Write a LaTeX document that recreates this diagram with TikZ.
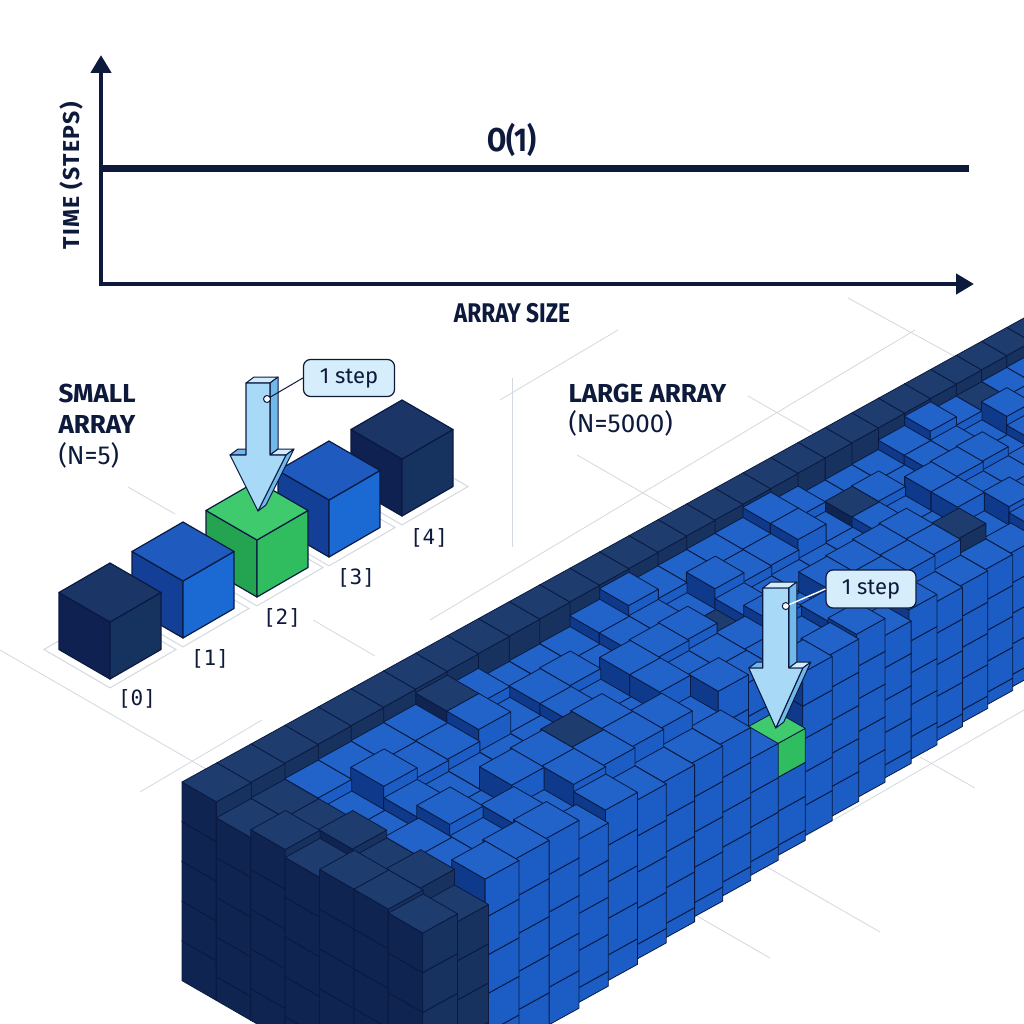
\documentclass[tikz,border=0pt]{standalone}
\usepackage{fontspec}
\setmainfont{Fira Sans}
\newfontfamily\condf[FakeStretch=0.84]{Fira Sans}
\newfontfamily\spacef[LetterSpace=6]{Fira Sans}
\newfontfamily\monof{DejaVu Sans Mono}
\usetikzlibrary{arrows.meta,calc}

\definecolor{ink}{HTML}{0E1A3C}
\definecolor{edgec}{HTML}{0A1A42}
\definecolor{gridc}{HTML}{D3D9E1}
\definecolor{dkT}{HTML}{1E3C6E}
\definecolor{dkL}{HTML}{0F2450}
\definecolor{dkR}{HTML}{18325F}
\definecolor{blT}{HTML}{2163C8}
\definecolor{blL}{HTML}{0F3A8C}
\definecolor{blR}{HTML}{1B5DC4}
\definecolor{gnT}{HTML}{3FCA6E}
\definecolor{gnL}{HTML}{24A350}
\definecolor{gnR}{HTML}{30BD60}
\definecolor{sdT}{HTML}{1B3566}
\definecolor{sdL}{HTML}{0E2150}
\definecolor{sdR}{HTML}{16325F}
\definecolor{sbT}{HTML}{1F5BBF}
\definecolor{sbL}{HTML}{133F96}
\definecolor{sbR}{HTML}{1B6AD3}
\definecolor{arF}{HTML}{A8D9F6}
\definecolor{arS}{HTML}{72B8E8}
\definecolor{arT}{HTML}{D2ECFB}
\definecolor{boxF}{HTML}{D6EDFB}

\newcommand{\smallcube}[5]{%
 \begin{scope}[shift={(#1,#2)}]
 \filldraw[fill=#4, cubeedge] (0,0) -- (-51,-29.5) -- (-51,27.5) -- (0,57) -- cycle;
 \filldraw[fill=#5, cubeedge] (0,0) -- (51,-29.5) -- (51,27.5) -- (0,57) -- cycle;
 \filldraw[fill=#3, cubeedge] (0,0) -- (-51,-29.5) -- (0,-59) -- (51,-29.5) -- cycle;
 \end{scope}}

\newcommand{\floortile}[2]{%
 \begin{scope}[shift={(#1,#2)}]
 \draw[tileline] (0,65.9) -- (-66,27.5) -- (0,-10.9) -- (66,27.5) -- cycle;
 \end{scope}}

% #1 tip, #2 length, #3 shaft half width, #4 head half width, #5 head length
\newcommand{\blockarrow}[5]{%
 \begin{scope}[shift={#1}]
 \def\qdx{8}\def\qdy{6}
 \filldraw[arside] (-#4,-#5) -- (-#3,-#5) -- (-#3+\qdx,-#5-\qdy) -- (-#4+\qdx,-#5-\qdy) -- cycle;
 \filldraw[artop] (-#3,-#2) -- (#3,-#2) -- (#3+\qdx,-#2-\qdy) -- (-#3+\qdx,-#2-\qdy) -- cycle;
 \filldraw[arside] (#3,-#2) -- (#3,-#5) -- (#3+\qdx,-#5-\qdy) -- (#3+\qdx,-#2-\qdy) -- cycle;
 \filldraw[artop] (#3,-#5) -- (#4,-#5) -- (#4+\qdx,-#5-\qdy) -- (#3+\qdx,-#5-\qdy) -- cycle;
 \filldraw[arside] (#4,-#5) -- (0,0) -- (\qdx,-\qdy) -- (#4+\qdx,-#5-\qdy) -- cycle;
 \filldraw[arfront] (0,0) -- (-#4,-#5) -- (-#3,-#5) -- (-#3,-#2) -- (#3,-#2) -- (#3,-#5) -- (#4,-#5) -- cycle;
 \end{scope}}

\begin{document}
\begin{tikzpicture}[x=1pt,y=-1pt,
  declare function={
    hs(\a,\b)=mod(\a*7+\b*13+\a*\b*5+\a*\a*3+\b*\b*2,11);
    hh(\a,\b)=(\b==0) ? 5 : ((\a==12 && \b==6) ? 3.3 : ((\a==11 && \b==6) ? 3.4 : (((\a==13 || \a==14) && \b==6) ? 4.9 : ((\b==6) ? 4.4+0.3*mod(hs(\a,\b),3) : ((\a<=1) ? 4.6+0.2*mod(hs(\a,\b),2) : 4.3+0.3*mod(hs(\a,\b),3))))));
    qX(\a)=2797.2*ln(1+0.0143*\a);
  },
  cubeedge/.style={draw=edgec,line width=1.2pt,line join=round},
  bedge/.style={draw=edgec,line width=0.8pt,line join=round},
  tileline/.style={draw=gridc,line width=1pt},
  gridl/.style={draw=gridc,line width=0.8pt},
  arside/.style={fill=arS,draw=edgec,line width=1pt,line join=round},
  artop/.style={fill=arT,draw=edgec,line width=1pt,line join=round},
  arfront/.style={fill=arF,draw=edgec,line width=1.1pt,line join=round},
  axis/.style={draw=ink,line width=4.5pt},
  stepbox/.style={draw=ink,line width=1.2pt,fill=boxF,rounded corners=7pt,inner sep=0pt,font=\fontsize{22}{24}\selectfont,text=ink},
  idx/.style={font=\monof\fontsize{21}{24}\selectfont,text=ink},
  leader/.style={draw=ink,line width=1pt},
  dot/.style={circle,draw=ink,fill=white,line width=1pt,inner sep=0pt,minimum size=7pt}
]
\useasboundingbox (0,0) rectangle (1024,1024);
\fill[white] (0,0) rectangle (1024,1024);
\begin{scope}
\clip (0,0) rectangle (1024,1024);

% faint floor grid
\draw[gridl] (430,620) -- (915,330);
\draw[gridl] (848,298) -- (965,362);
\draw[gridl] (500,400) -- (618,330);
\draw[gridl] (748,396) -- (830,443);
\draw[gridl] (577,455) -- (690,520);
\draw[gridl] (0,650) -- (230,783);
\draw[gridl] (140,792) -- (262,720);
\draw[gridl] (560,978) -- (1024,710);
\draw[gridl] (760,863) -- (880,932);
\draw[gridl] (690,912) -- (770,958);
\draw[gridl] (920,757) -- (975,788);
\draw[gridl] (128,487) -- (175,514);
\draw[gridl] (313,620) -- (375,656);
\draw[gridl] (512,378) -- (512,547);

% axes
\draw[axis,{Triangle[length=18pt,width=20pt]}-{Triangle[length=18pt,width=20pt]}] (101,55) -- (101,284) -- (974,284);
\draw[draw=ink,line width=7pt] (101,169) -- (969,169);
\node[font=\condf\bfseries\fontsize{33}{36}\selectfont,text=ink] (o1) at (512,140) {O(1)};
\node[font=\condf\bfseries\fontsize{27}{30}\selectfont,text=ink] (xlab) at (512,313) {ARRAY SIZE};
\node[rotate=90,font=\spacef\bfseries\fontsize{23}{26}\selectfont,text=ink] (ylab) at (71,176) {TIME (STEPS)};

% small array labels
\node[anchor=base west,font=\bfseries\fontsize{26}{28}\selectfont,text=ink] (sa1) at (55,402) {SMALL};
\node[anchor=base west,font=\bfseries\fontsize{26}{28}\selectfont,text=ink] (sa2) at (55,433) {ARRAY};
\node[anchor=base west,font=\fontsize{26}{28}\selectfont,text=ink] (sa3) at (55,464) {(N=5)};
\node[anchor=base west,font=\bfseries\fontsize{26}{28}\selectfont,text=ink] (la1) at (565,402) {LARGE ARRAY};
\node[anchor=base west,font=\fontsize{26}{28}\selectfont,text=ink] (la2) at (565,432) {(N=5000)};

% small array
\floortile{402}{459}
\floortile{329}{500}
\floortile{257}{540}
\floortile{183}{581}
\floortile{110}{622}
\smallcube{402}{459}{sdT}{sdL}{sdR}
\smallcube{329}{500}{sbT}{sbL}{sbR}
\smallcube{257}{540}{gnT}{gnL}{gnR}
\smallcube{183}{581}{sbT}{sbL}{sbR}
\smallcube{110}{622}{sdT}{sdL}{sdR}
\node[idx] (i0) at (137,699) {[0]};
\node[idx] (i1) at (210,659) {[1]};
\node[idx] (i2) at (282,618) {[2]};
\node[idx] (i3) at (356,578) {[3]};
\node[idx] (i4) at (429,538) {[4]};

\blockarrow{(258,511)}{128}{12}{28}{56}
\node[stepbox,minimum width=91pt,minimum height=37pt] (sbox) at (349,378) {1 step};
\node[dot] (sdot) at (267,399) {};
\draw[leader] (sdot) -- (sbox.west);

% large array block
\foreach \i in {30,29,...,0}{
 \foreach \j in {0,...,6}{
  \pgfmathsetmacro\qS{1/(1+0.0143*(\i+0.5))}
  \pgfmathsetmacro\qXa{qX(\i)}
  \pgfmathsetmacro\qE{qX(\i+1)-\qXa}
  \pgfmathsetmacro\qP{40*\qS}
  \pgfmathsetmacro\qox{182+\qXa*0.8758+\qP*\j*0.866}
  \pgfmathsetmacro\qoy{782-\qXa*0.4826+\qP*(\j*0.5+5)}
  \pgfmathsetmacro\qxx{0.8758*\qE}
  \pgfmathsetmacro\qxy{0.4826*\qE}
  \pgfmathsetmacro\qyx{0.866*\qP}
  \pgfmathsetmacro\qyy{-0.5*\qP}
  \pgfmathsetmacro\qh{hh(\i,\j)}
  \pgfmathsetmacro\qhl{hh(\i-1,\j)}
  \pgfmathsetmacro\qhf{hh(\i,\j+1)}
  \pgfmathtruncatemacro\qn{ceil(\qh-0.001)}
  \begin{scope}[shift={(\qox,\qoy)},x={(\qxx pt,\qxy pt)},y={(\qyx pt,\qyy pt)},z={(0pt,\qP pt)}]
   \foreach \k in {1,...,\qn}{
     \pgfmathsetmacro\qzb{\qh-(\qn-\k)}
     \pgfmathsetmacro\qza{max(0,\qzb-1)}
     \pgfmathtruncatemacro\qv{(\k==\qn)||(\i==0)||(\qzb>\qhl+0.01)||(\j==6)||(\qzb>\qhf+0.01)}
     \ifnum\qv=1
       \pgfmathtruncatemacro\qc{(\i==12 && \j==6 && \k==\qn) ? 2 : ((\j==0 || \i<=1 || (\j<6 && mod(\i*5+\j*11,19)==3)) ? 1 : 0)}
       \ifcase\qc \def\qT{blT}\def\qL{blL}\def\qR{blR}\or \def\qT{dkT}\def\qL{dkL}\def\qR{dkR}\or \def\qT{gnT}\def\qL{gnL}\def\qR{gnR}\fi
       \filldraw[bedge,fill=\qL] (0,0,\qza) -- (0,1,\qza) -- (0,1,\qzb) -- (0,0,\qzb) -- cycle;
       \filldraw[bedge,fill=\qR] (0,1,\qza) -- (1,1,\qza) -- (1,1,\qzb) -- (0,1,\qzb) -- cycle;
       \filldraw[bedge,fill=\qT] (0,0,\qzb) -- (1,0,\qzb) -- (1,1,\qzb) -- (0,1,\qzb) -- cycle;
       \ifnum\qc=2 \coordinate (gtop) at (0.5,0.5,\qzb); \fi
     \fi
   }
  \end{scope}
 }
}

\blockarrow{(gtop)}{140}{13}{27}{60}
\node[stepbox,minimum width=90pt,minimum height=38pt] (bbox) at (871,589) {1 step};
\node[dot] (bdot) at ($(gtop)+(10,-122)$) {};
\draw[leader,draw=white,line width=1.4pt] (bdot) -- (bbox.west);

\end{scope}
\end{tikzpicture}
\end{document}
